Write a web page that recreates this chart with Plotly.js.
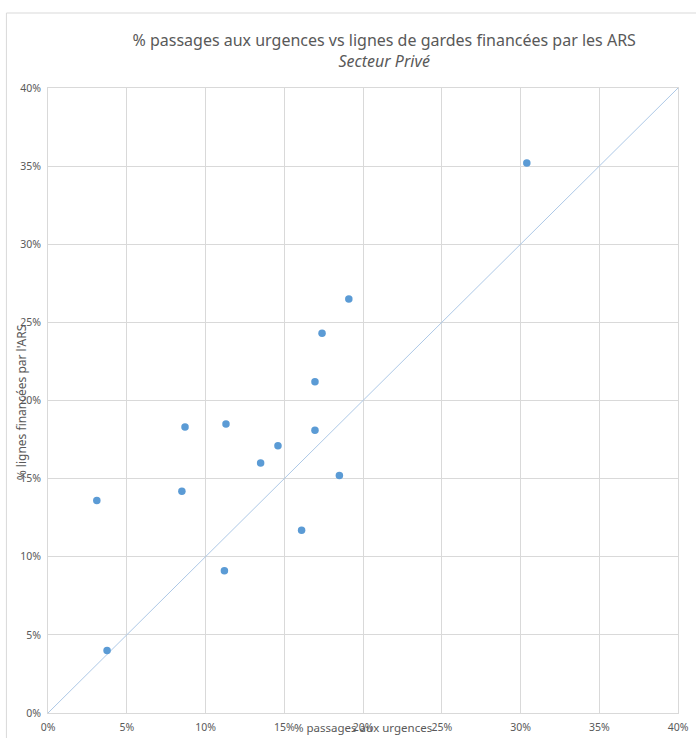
<!DOCTYPE html>
<html><head><meta charset="utf-8">
<script src="https://cdn.plot.ly/plotly-3.0.1.min.js"></script>
<style>html,body{margin:0;padding:0;background:#fff;}#chart{width:696px;height:738px;}</style>
</head><body><div id="chart"></div>
<script>
const passages = [30.4, 19.1, 17.4, 16.95, 16.95, 18.5, 11.3, 8.7, 14.6, 13.5, 8.5, 3.1, 16.1, 11.2, 3.75];
const lignes   = [35.2, 26.5, 24.3, 21.2, 18.1, 15.2, 18.5, 18.3, 17.1, 16.0, 14.2, 13.6, 11.7, 9.1, 4.0];
const diagX = [0, 40];
const diagY = [0, 40];
const tickVals = [0, 5, 10, 15, 20, 25, 30, 35, 40];
const tickText = ['0%','5%','10%','15%','20%','25%','30%','35%','40%'];

const font = 'Noto Sans, Open Sans, sans-serif';
const gray = '#595959';
const grid = '#d9d9d9';

const traces = [
  {x: diagX, y: diagY, mode: 'lines', type: 'scatter', line: {color: '#adc8e6', width: 1}, hoverinfo: 'skip'},
  {x: passages, y: lignes, mode: 'markers', type: 'scatter', marker: {color: '#5b9bd5', size: 7.5}}
];

const axisCommon = {
  range: [0, 40], tickvals: tickVals, ticktext: tickText,
  showgrid: true, gridcolor: grid, gridwidth: 1, zeroline: false,
  showline: true, linecolor: grid, linewidth: 1, mirror: true,
  ticks: '', tickfont: {family: font, size: 10.5, color: gray}, fixedrange: true
};

const layout = {
  width: 696, height: 738,
  margin: {l: 48, r: 18, t: 88, b: 25},
  paper_bgcolor: '#fff', plot_bgcolor: '#fff',
  showlegend: false,
  title: {
    text: '% passages aux urgences vs lignes de gardes financées par les ARS<br><i>Secteur Privé</i>',
    font: {family: font, size: 16, color: gray},
    x: 0.552, xanchor: 'center', xref: 'container', y: 0.938, yanchor: 'top', yref: 'container'
  },
  xaxis: Object.assign({}, axisCommon, {ticklabelstandoff: 4}),
  yaxis: Object.assign({}, axisCommon, {ticklabelstandoff: 4}),
  annotations: [
    {text: '% passages aux urgences', xref: 'paper', yref: 'paper', x: 0.5, y: -0.039, xanchor: 'center', yanchor: 'bottom', showarrow: false, font: {family: font, size: 11.5, color: gray}},
    {text: "% lignes financées par l'ARS", xref: 'paper', yref: 'paper', x: -0.043, y: 0.497, xanchor: 'center', yanchor: 'middle', textangle: -90, showarrow: false, font: {family: font, size: 12, color: gray}}
  ],
  shapes: [
    {type: 'rect', xref: 'paper', yref: 'paper', x0: -0.066, x1: 1.03, y0: -0.06, y1: 1.12, line: {color: '#d9d9d9', width: 1}, fillcolor: 'rgba(0,0,0,0)', layer: 'below'}
  ]
};

Plotly.newPlot('chart', traces, layout, {displayModeBar: false, staticPlot: true});
</script>
</body></html>
